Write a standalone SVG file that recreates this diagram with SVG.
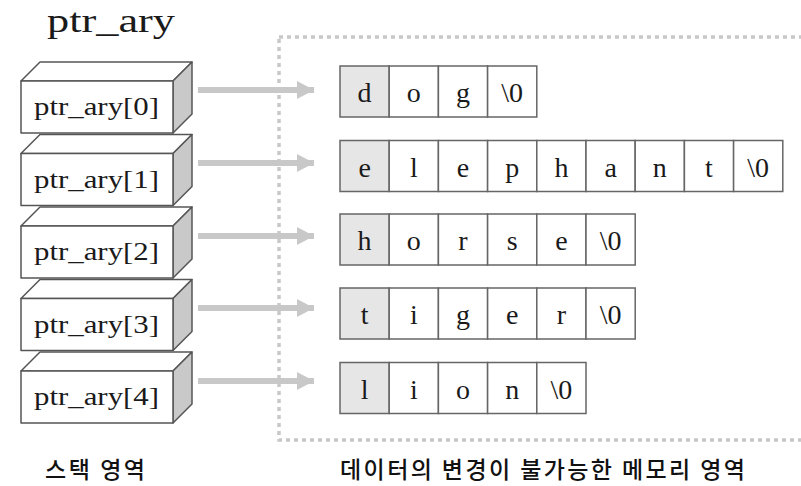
<svg xmlns="http://www.w3.org/2000/svg" width="801" height="486" viewBox="0 0 801 486">
  <defs>
    <style>
      .serif { font-family: "Liberation Serif", "Times New Roman", serif; fill: #1a1a1a; }
      .kr { font-family: "Noto Sans CJK KR", "Noto Sans", sans-serif; fill: #111; font-size: 23px; font-weight: 500; }
      .front { fill: #ffffff; stroke: #555; stroke-width: 1.5; stroke-linejoin: round; }
      .side { fill: #c9c9c9; stroke: #555; stroke-width: 1.5; stroke-linejoin: round; }
      .cell { fill: #ffffff; stroke: #666; stroke-width: 1.5; }
      .head { fill: #e6e6e6; stroke: #666; stroke-width: 1.5; }
      .ch { font-size: 28px; text-anchor: middle; }
      .lbl { font-size: 25px; }
      .link { stroke: #c8c8c8; stroke-width: 6; fill: none; }
      .area { fill: none; stroke: #c8c8c8; stroke-width: 3.5; stroke-dasharray: 4 4; }
    </style>
    <marker id="arrow" markerUnits="userSpaceOnUse" markerWidth="18" markerHeight="18" refX="17" refY="9" orient="auto">
      <polygon points="0,0 17,9 0,18" fill="#c8c8c8"/>
    </marker>
    <!-- one 3-D slot of the pointer array: front face, top face, right face -->
    <g id="slot">
      <polygon class="front" points="21,-19 40,-38 192,-38 173,-19"/>
      <polygon class="side" points="173,-19 192,-38 192,14 173,33"/>
      <rect class="front" x="21" y="-19" width="152" height="52"/>
    </g>
  </defs>

  <!-- title -->
  <text class="serif" x="47" y="32" font-size="34" textLength="128" lengthAdjust="spacingAndGlyphs">ptr_ary</text>

  <!-- read-only memory region (dotted frame, open at the right) -->
  <rect class="area" x="279" y="37" width="540" height="403"/>

  <!-- pointer array slots -->
  <g id="ptr0">
    <use href="#slot" transform="translate(0,100)"/>
    <text class="serif lbl" x="34" y="115" textLength="125" lengthAdjust="spacingAndGlyphs">ptr_ary[0]</text>
  </g>
  <g id="ptr1">
    <use href="#slot" transform="translate(0,172.5)"/>
    <text class="serif lbl" x="34" y="187.5" textLength="125" lengthAdjust="spacingAndGlyphs">ptr_ary[1]</text>
  </g>
  <g id="ptr2">
    <use href="#slot" transform="translate(0,245)"/>
    <text class="serif lbl" x="34" y="260" textLength="125" lengthAdjust="spacingAndGlyphs">ptr_ary[2]</text>
  </g>
  <g id="ptr3">
    <use href="#slot" transform="translate(0,317.5)"/>
    <text class="serif lbl" x="34" y="332.5" textLength="125" lengthAdjust="spacingAndGlyphs">ptr_ary[3]</text>
  </g>
  <g id="ptr4">
    <use href="#slot" transform="translate(0,390)"/>
    <text class="serif lbl" x="34" y="405" textLength="125" lengthAdjust="spacingAndGlyphs">ptr_ary[4]</text>
  </g>

  <!-- pointer links -->
  <g id="connectors">
    <line class="link" x1="198" y1="90" x2="314" y2="90" marker-end="url(#arrow)"/>
    <line class="link" x1="198" y1="163" x2="314" y2="163" marker-end="url(#arrow)"/>
    <line class="link" x1="198" y1="236" x2="314" y2="236" marker-end="url(#arrow)"/>
    <line class="link" x1="198" y1="308" x2="314" y2="308" marker-end="url(#arrow)"/>
    <line class="link" x1="198" y1="381" x2="314" y2="381" marker-end="url(#arrow)"/>
  </g>

  <!-- string literals -->
  <g id="str0">
    <rect class="head" x="340" y="66" width="49.2" height="51"/>
    <rect class="cell" x="389.2" y="66" width="49.2" height="51"/>
    <rect class="cell" x="438.4" y="66" width="49.2" height="51"/>
    <rect class="cell" x="487.6" y="66" width="49.2" height="51"/>
    <text class="serif ch" y="102"><tspan x="364.6">d</tspan><tspan x="413.8">o</tspan><tspan x="463">g</tspan><tspan x="512.2">\0</tspan></text>
  </g>
  <g id="str1">
    <rect class="head" x="340" y="140.5" width="49.2" height="51"/>
    <rect class="cell" x="389.2" y="140.5" width="49.2" height="51"/>
    <rect class="cell" x="438.4" y="140.5" width="49.2" height="51"/>
    <rect class="cell" x="487.6" y="140.5" width="49.2" height="51"/>
    <rect class="cell" x="536.8" y="140.5" width="49.2" height="51"/>
    <rect class="cell" x="586" y="140.5" width="49.2" height="51"/>
    <rect class="cell" x="635.2" y="140.5" width="49.2" height="51"/>
    <rect class="cell" x="684.4" y="140.5" width="49.2" height="51"/>
    <rect class="cell" x="733.6" y="140.5" width="49.2" height="51"/>
    <text class="serif ch" y="176.5"><tspan x="364.6">e</tspan><tspan x="413.8">l</tspan><tspan x="463">e</tspan><tspan x="512.2">p</tspan><tspan x="561.4">h</tspan><tspan x="610.6">a</tspan><tspan x="659.8">n</tspan><tspan x="709">t</tspan><tspan x="758.2">\0</tspan></text>
  </g>
  <g id="str2">
    <rect class="head" x="340" y="214" width="49.2" height="51"/>
    <rect class="cell" x="389.2" y="214" width="49.2" height="51"/>
    <rect class="cell" x="438.4" y="214" width="49.2" height="51"/>
    <rect class="cell" x="487.6" y="214" width="49.2" height="51"/>
    <rect class="cell" x="536.8" y="214" width="49.2" height="51"/>
    <rect class="cell" x="586" y="214" width="49.2" height="51"/>
    <text class="serif ch" y="250"><tspan x="364.6">h</tspan><tspan x="413.8">o</tspan><tspan x="463">r</tspan><tspan x="512.2">s</tspan><tspan x="561.4">e</tspan><tspan x="610.6">\0</tspan></text>
  </g>
  <g id="str3">
    <rect class="head" x="340" y="288" width="49.2" height="51"/>
    <rect class="cell" x="389.2" y="288" width="49.2" height="51"/>
    <rect class="cell" x="438.4" y="288" width="49.2" height="51"/>
    <rect class="cell" x="487.6" y="288" width="49.2" height="51"/>
    <rect class="cell" x="536.8" y="288" width="49.2" height="51"/>
    <rect class="cell" x="586" y="288" width="49.2" height="51"/>
    <text class="serif ch" y="324"><tspan x="364.6">t</tspan><tspan x="413.8">i</tspan><tspan x="463">g</tspan><tspan x="512.2">e</tspan><tspan x="561.4">r</tspan><tspan x="610.6">\0</tspan></text>
  </g>
  <g id="str4">
    <rect class="head" x="340" y="362.5" width="49.2" height="51"/>
    <rect class="cell" x="389.2" y="362.5" width="49.2" height="51"/>
    <rect class="cell" x="438.4" y="362.5" width="49.2" height="51"/>
    <rect class="cell" x="487.6" y="362.5" width="49.2" height="51"/>
    <rect class="cell" x="536.8" y="362.5" width="49.2" height="51"/>
    <text class="serif ch" y="398.5"><tspan x="364.6">l</tspan><tspan x="413.8">i</tspan><tspan x="463">o</tspan><tspan x="512.2">n</tspan><tspan x="561.4">\0</tspan></text>
  </g>

  <!-- region captions -->
  <text class="kr" x="45" y="478" textLength="100" lengthAdjust="spacing">스택 영역</text>
  <text class="kr" x="340" y="478" textLength="405" lengthAdjust="spacing">데이터의 변경이 불가능한 메모리 영역</text>
</svg>
